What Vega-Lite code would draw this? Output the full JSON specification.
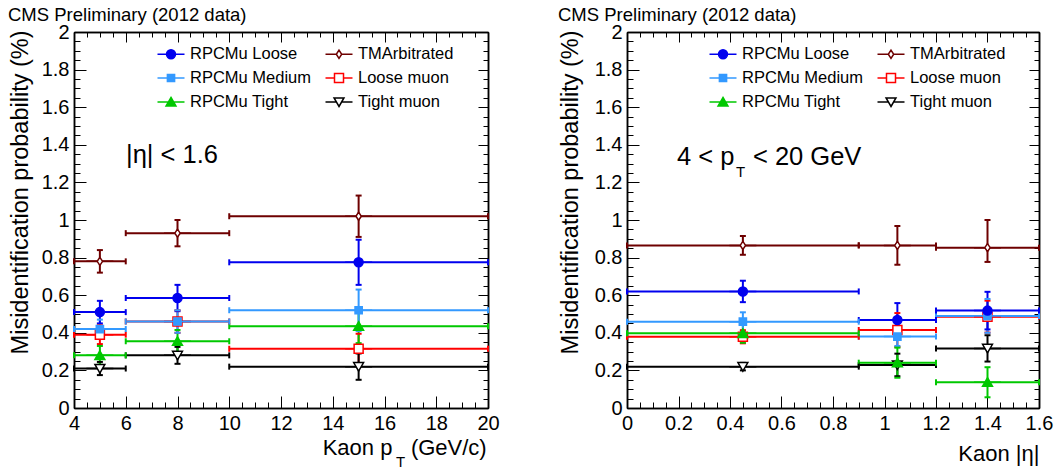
{
  "$schema": "https://vega.github.io/schema/vega-lite/v6.json",
  "padding": {"left": 8, "top": 5, "right": 5, "bottom": 0},
  "background": "white",
  "spacing": 58,
  "config": {
    "font": "Liberation Sans",
    "view": {"stroke": null},
    "axis": {
      "domainColor": "black", "domainWidth": 1.5, "tickColor": "black", "tickWidth": 1,
      "labelFont": "Liberation Sans", "labelFontSize": 20, "labelColor": "black",
      "titleFont": "Liberation Sans", "titleFontSize": 23.5, "titleColor": "black", "titleFontWeight": "normal",
      "grid": false, "labelFlush": false, "labelOverlap": false, "labelPadding": 17, "format": "~g"
    },
    "title": {"font": "Liberation Sans", "fontSize": 18.5, "fontWeight": "normal", "anchor": "start", "color": "black", "offset": -2},
    "legend": {
      "labelFont": "Liberation Sans", "labelFontSize": 16.5, "labelColor": "black",
      "symbolSize": 324, "symbolStrokeWidth": 1.5, "symbolOpacity": 1,
      "columns": 2, "rowPadding": 5, "columnPadding": 10, "labelOffset": 9, "padding": 0
    }
  },
  "datasets": {
    "pt": [
      {"s": "TMArbitrated", "x": 5, "x1": 4, "x2": 6, "y": 0.78, "ylo": 0.72, "yhi": 0.84},
      {"s": "TMArbitrated", "x": 8, "x1": 6, "x2": 10, "y": 0.93, "ylo": 0.86, "yhi": 1.0},
      {"s": "TMArbitrated", "x": 15, "x1": 10, "x2": 20, "y": 1.02, "ylo": 0.91, "yhi": 1.13},
      {"s": "Loose muon", "x": 5, "x1": 4, "x2": 6, "y": 0.39, "ylo": 0.34, "yhi": 0.44},
      {"s": "Loose muon", "x": 8, "x1": 6, "x2": 10, "y": 0.46, "ylo": 0.40, "yhi": 0.52},
      {"s": "Loose muon", "x": 15, "x1": 10, "x2": 20, "y": 0.315, "ylo": 0.235, "yhi": 0.395},
      {"s": "Tight muon", "x": 5, "x1": 4, "x2": 6, "y": 0.21, "ylo": 0.175, "yhi": 0.245},
      {"s": "Tight muon", "x": 8, "x1": 6, "x2": 10, "y": 0.28, "ylo": 0.235, "yhi": 0.325},
      {"s": "Tight muon", "x": 15, "x1": 10, "x2": 20, "y": 0.22, "ylo": 0.15, "yhi": 0.29},
      {"s": "RPCMu Tight", "x": 5, "x1": 4, "x2": 6, "y": 0.28, "ylo": 0.23, "yhi": 0.33},
      {"s": "RPCMu Tight", "x": 8, "x1": 6, "x2": 10, "y": 0.355, "ylo": 0.295, "yhi": 0.415},
      {"s": "RPCMu Tight", "x": 15, "x1": 10, "x2": 20, "y": 0.435, "ylo": 0.345, "yhi": 0.525},
      {"s": "RPCMu Medium", "x": 5, "x1": 4, "x2": 6, "y": 0.42, "ylo": 0.37, "yhi": 0.47},
      {"s": "RPCMu Medium", "x": 8, "x1": 6, "x2": 10, "y": 0.46, "ylo": 0.40, "yhi": 0.52},
      {"s": "RPCMu Medium", "x": 15, "x1": 10, "x2": 20, "y": 0.52, "ylo": 0.41, "yhi": 0.63},
      {"s": "RPCMu Loose", "x": 5, "x1": 4, "x2": 6, "y": 0.51, "ylo": 0.45, "yhi": 0.57},
      {"s": "RPCMu Loose", "x": 8, "x1": 6, "x2": 10, "y": 0.585, "ylo": 0.515, "yhi": 0.655},
      {"s": "RPCMu Loose", "x": 15, "x1": 10, "x2": 20, "y": 0.775, "ylo": 0.655, "yhi": 0.895}
    ],
    "eta": [
      {"s": "TMArbitrated", "x": 0.45, "x1": 0, "x2": 0.9, "y": 0.865, "ylo": 0.815, "yhi": 0.915},
      {"s": "TMArbitrated", "x": 1.05, "x1": 0.9, "x2": 1.2, "y": 0.865, "ylo": 0.762, "yhi": 0.968},
      {"s": "TMArbitrated", "x": 1.4, "x1": 1.2, "x2": 1.6, "y": 0.853, "ylo": 0.777, "yhi": 1.0},
      {"s": "Loose muon", "x": 0.45, "x1": 0, "x2": 0.9, "y": 0.379, "ylo": 0.344, "yhi": 0.414},
      {"s": "Loose muon", "x": 1.05, "x1": 0.9, "x2": 1.2, "y": 0.415, "ylo": 0.325, "yhi": 0.505},
      {"s": "Loose muon", "x": 1.4, "x1": 1.2, "x2": 1.6, "y": 0.486, "ylo": 0.401, "yhi": 0.571},
      {"s": "Tight muon", "x": 0.45, "x1": 0, "x2": 0.9, "y": 0.22, "ylo": 0.2, "yhi": 0.24},
      {"s": "Tight muon", "x": 1.05, "x1": 0.9, "x2": 1.2, "y": 0.229, "ylo": 0.169, "yhi": 0.289},
      {"s": "Tight muon", "x": 1.4, "x1": 1.2, "x2": 1.6, "y": 0.317, "ylo": 0.247, "yhi": 0.387},
      {"s": "RPCMu Tight", "x": 0.45, "x1": 0, "x2": 0.9, "y": 0.397, "ylo": 0.347, "yhi": 0.447},
      {"s": "RPCMu Tight", "x": 1.05, "x1": 0.9, "x2": 1.2, "y": 0.241, "ylo": 0.161, "yhi": 0.321},
      {"s": "RPCMu Tight", "x": 1.4, "x1": 1.2, "x2": 1.6, "y": 0.137, "ylo": 0.057, "yhi": 0.217},
      {"s": "RPCMu Medium", "x": 0.45, "x1": 0, "x2": 0.9, "y": 0.459, "ylo": 0.409, "yhi": 0.509},
      {"s": "RPCMu Medium", "x": 1.05, "x1": 0.9, "x2": 1.2, "y": 0.38, "ylo": 0.33, "yhi": 0.43},
      {"s": "RPCMu Medium", "x": 1.4, "x1": 1.2, "x2": 1.6, "y": 0.49, "ylo": 0.4, "yhi": 0.58},
      {"s": "RPCMu Loose", "x": 0.45, "x1": 0, "x2": 0.9, "y": 0.62, "ylo": 0.563, "yhi": 0.677},
      {"s": "RPCMu Loose", "x": 1.05, "x1": 0.9, "x2": 1.2, "y": 0.468, "ylo": 0.378, "yhi": 0.558},
      {"s": "RPCMu Loose", "x": 1.4, "x1": 1.2, "x2": 1.6, "y": 0.518, "ylo": 0.418, "yhi": 0.618}
    ]
  },
  "resolve": {
    "scale": {"color": "independent", "fill": "independent", "stroke": "independent", "shape": "independent"},
    "legend": {"fill": "independent", "stroke": "independent", "shape": "independent"}
  },
  "hconcat": [
    {
      "width": 414, "height": 376,
      "title": {"text": "CMS Preliminary (2012 data)"},
      "data": {"name": "pt"},
      "resolve": {"axis": {"x": "independent", "y": "independent"}},
      "layer": [
        {
          "mark": {"type": "rule", "strokeWidth": 2},
          "encoding": {
            "x": {"field": "x1", "type": "quantitative", "scale": {"domain": [4, 20], "nice": false, "zero": false},
                  "axis": {"orient": "bottom", "values": [4, 6, 8, 10, 12, 14, 16, 18, 20], "tickSize": -12, "title": null}},
            "x2": {"field": "x2"},
            "y": {"field": "y", "type": "quantitative", "scale": {"domain": [0, 2], "nice": false, "zero": false},
                  "axis": {"orient": "left", "values": [0, 0.2, 0.4, 0.6, 0.8, 1, 1.2, 1.4, 1.6, 1.8, 2], "tickSize": -12,
                           "title": "Misidentification probability (%)", "titleX": -54, "titleY": -2, "titleAlign": "right", "titleBaseline": "middle", "titleAngle": 270}},
            "color": {"field": "s", "type": "nominal", "legend": null,
                      "scale": {"domain": ["Tight muon", "Loose muon", "RPCMu Tight", "RPCMu Medium", "TMArbitrated", "RPCMu Loose"],
                                "range": ["#000000", "#ff0000", "#00c800", "#3399ff", "#6e0000", "#0000ee"]}}
          }
        },
        {
          "mark": {"type": "tick", "orient": "vertical", "size": 6, "thickness": 2, "opacity": 1},
          "encoding": {
            "x": {"field": "x1", "type": "quantitative",
                  "axis": {"orient": "bottom", "labels": false, "title": null, "tickSize": -6,
                           "values": [4, 4.5, 5, 5.5, 6, 6.5, 7, 7.5, 8, 8.5, 9, 9.5, 10, 10.5, 11, 11.5, 12, 12.5, 13, 13.5, 14, 14.5, 15, 15.5, 16, 16.5, 17, 17.5, 18, 18.5, 19, 19.5, 20]}},
            "y": {"field": "y", "type": "quantitative",
                  "axis": {"orient": "left", "labels": false, "title": null, "tickSize": -6,
                           "values": [0, 0.05, 0.1, 0.15, 0.2, 0.25, 0.3, 0.35, 0.4, 0.45, 0.5, 0.55, 0.6, 0.65, 0.7, 0.75, 0.8, 0.85, 0.9, 0.95, 1, 1.05, 1.1, 1.15, 1.2, 1.25, 1.3, 1.35, 1.4, 1.45, 1.5, 1.55, 1.6, 1.65, 1.7, 1.75, 1.8, 1.85, 1.9, 1.95, 2]}},
            "color": {"field": "s", "type": "nominal", "legend": null}
          }
        },
        {
          "mark": {"type": "tick", "orient": "vertical", "size": 6, "thickness": 2, "opacity": 1},
          "encoding": {
            "x": {"field": "x2", "type": "quantitative",
                  "axis": {"orient": "top", "labels": false, "title": null, "tickSize": -10, "values": [4, 6, 8, 10, 12, 14, 16, 18, 20]}},
            "y": {"field": "y", "type": "quantitative",
                  "axis": {"orient": "right", "labels": false, "title": null, "tickSize": -10, "values": [0, 0.2, 0.4, 0.6, 0.8, 1, 1.2, 1.4, 1.6, 1.8, 2]}},
            "color": {"field": "s", "type": "nominal", "legend": null}
          }
        },
        {
          "mark": {"type": "rule", "strokeWidth": 2},
          "encoding": {
            "x": {"field": "x", "type": "quantitative",
                  "axis": {"orient": "top", "labels": false, "title": null, "tickSize": -5,
                           "values": [4, 4.5, 5, 5.5, 6, 6.5, 7, 7.5, 8, 8.5, 9, 9.5, 10, 10.5, 11, 11.5, 12, 12.5, 13, 13.5, 14, 14.5, 15, 15.5, 16, 16.5, 17, 17.5, 18, 18.5, 19, 19.5, 20]}},
            "y": {"field": "ylo", "type": "quantitative",
                  "axis": {"orient": "right", "labels": false, "title": null, "tickSize": -5,
                           "values": [0, 0.05, 0.1, 0.15, 0.2, 0.25, 0.3, 0.35, 0.4, 0.45, 0.5, 0.55, 0.6, 0.65, 0.7, 0.75, 0.8, 0.85, 0.9, 0.95, 1, 1.05, 1.1, 1.15, 1.2, 1.25, 1.3, 1.35, 1.4, 1.45, 1.5, 1.55, 1.6, 1.65, 1.7, 1.75, 1.8, 1.85, 1.9, 1.95, 2]}},
            "y2": {"field": "yhi"},
            "color": {"field": "s", "type": "nominal", "legend": null}
          }
        },
        {
          "mark": {"type": "tick", "orient": "horizontal", "size": 6, "thickness": 2, "opacity": 1},
          "encoding": {
            "x": {"field": "x", "type": "quantitative", "axis": null},
            "y": {"field": "ylo", "type": "quantitative", "axis": null},
            "color": {"field": "s", "type": "nominal", "legend": null}
          }
        },
        {
          "mark": {"type": "tick", "orient": "horizontal", "size": 6, "thickness": 2, "opacity": 1},
          "encoding": {
            "x": {"field": "x", "type": "quantitative", "axis": null},
            "y": {"field": "yhi", "type": "quantitative", "axis": null},
            "color": {"field": "s", "type": "nominal", "legend": null}
          }
        },
        {
          "mark": {"type": "point", "filled": true, "opacity": 1, "size": 324, "strokeWidth": 1.5},
          "encoding": {
            "x": {"field": "x", "type": "quantitative", "axis": null},
            "y": {"field": "y", "type": "quantitative", "axis": null},
            "fill": {"field": "s", "type": "nominal",
                     "scale": {"domain": ["RPCMu Loose", "RPCMu Medium", "RPCMu Tight", "TMArbitrated", "Loose muon", "Tight muon"],
                               "range": ["#0000ee", "#3399ff", "#00c800", "#ffffff", "#ffffff", "#ffffff"]},
                     "legend": {"orient": "none", "legendX": 87, "legendY": 12, "title": null}},
            "stroke": {"field": "s", "type": "nominal",
                       "scale": {"domain": ["RPCMu Loose", "RPCMu Medium", "RPCMu Tight", "TMArbitrated", "Loose muon", "Tight muon"],
                                 "range": ["#0000ee", "#3399ff", "#00c800", "#6e0000", "#ff0000", "#000000"]},
                       "legend": {"orient": "none", "legendX": 87, "legendY": 12, "title": null}},
            "shape": {"field": "s", "type": "nominal",
                      "scale": {"domain": ["RPCMu Loose", "RPCMu Medium", "RPCMu Tight", "TMArbitrated", "Loose muon", "Tight muon"],
                                "range": ["M-1.5,0H-0.5M0.5,0H1.5M-0.5,0A0.5,0.5,0,1,1,0.5,0A0.5,0.5,0,1,1,-0.5,0Z",
                                          "M-1.5,0H-0.4M0.4,0H1.5M-0.4,-0.4H0.4V0.4H-0.4Z",
                                          "M-1.5,0H-0.29M0.29,0H1.5M0,-0.5L0.55,0.45L-0.55,0.45Z",
                                          "M-1.5,0H-0.3M0.3,0H1.5M0,-0.45L0.3,0L0,0.45L-0.3,0Z",
                                          "M-1.5,0H-0.5M0.5,0H1.5M-0.5,-0.5H0.5V0.5H-0.5Z",
                                          "M-1.5,0H-0.29M0.29,0H1.5M0,0.5L0.55,-0.45L-0.55,-0.45Z"]},
                      "legend": {"orient": "none", "legendX": 87, "legendY": 12, "title": null}}
          }
        },
        {
          "data": {"values": [{}]},
          "mark": {"type": "text", "text": "|η| < 1.6", "fontSize": 25.5, "align": "left", "baseline": "alphabetic", "color": "black"},
          "encoding": {
            "x": {"datum": 6.01, "type": "quantitative", "axis": null},
            "y": {"datum": 1.303, "type": "quantitative", "axis": null}
          }
        },
        {
          "data": {"values": [{}]},
          "mark": {"type": "text", "text": "Kaon p", "fontSize": 22, "align": "left", "baseline": "alphabetic", "color": "black"},
          "encoding": {
            "x": {"datum": 13.61, "type": "quantitative", "axis": null},
            "y": {"datum": -0.25, "type": "quantitative", "axis": null}
          }
        },
        {
          "data": {"values": [{}]},
          "mark": {"type": "text", "text": "T", "fontSize": 15, "align": "left", "baseline": "alphabetic", "color": "black"},
          "encoding": {
            "x": {"datum": 16.44, "type": "quantitative", "axis": null},
            "y": {"datum": -0.314, "type": "quantitative", "axis": null}
          }
        },
        {
          "data": {"values": [{}]},
          "mark": {"type": "text", "text": "(GeV/c)", "fontSize": 22, "align": "left", "baseline": "alphabetic", "color": "black"},
          "encoding": {
            "x": {"datum": 17.02, "type": "quantitative", "axis": null},
            "y": {"datum": -0.25, "type": "quantitative", "axis": null}
          }
        }
      ]
    },
    {
      "width": 412, "height": 376,
      "title": {"text": "CMS Preliminary (2012 data)"},
      "data": {"name": "eta"},
      "resolve": {"axis": {"x": "independent", "y": "independent"}},
      "layer": [
        {
          "mark": {"type": "rule", "strokeWidth": 2},
          "encoding": {
            "x": {"field": "x1", "type": "quantitative", "scale": {"domain": [0, 1.6], "nice": false, "zero": false},
                  "axis": {"orient": "bottom", "values": [0, 0.2, 0.4, 0.6, 0.8, 1, 1.2, 1.4, 1.6], "tickSize": -12,
                           "title": "Kaon |η|", "titleFontSize": 22, "titleX": 412, "titleY": 52, "titleAlign": "right", "titleBaseline": "alphabetic"}},
            "x2": {"field": "x2"},
            "y": {"field": "y", "type": "quantitative", "scale": {"domain": [0, 2], "nice": false, "zero": false},
                  "axis": {"orient": "left", "values": [0, 0.2, 0.4, 0.6, 0.8, 1, 1.2, 1.4, 1.6, 1.8, 2], "tickSize": -12,
                           "title": "Misidentification probability (%)", "titleX": -57, "titleY": -2, "titleAlign": "right", "titleBaseline": "middle", "titleAngle": 270}},
            "color": {"field": "s", "type": "nominal", "legend": null,
                      "scale": {"domain": ["Tight muon", "Loose muon", "RPCMu Tight", "RPCMu Medium", "TMArbitrated", "RPCMu Loose"],
                                "range": ["#000000", "#ff0000", "#00c800", "#3399ff", "#6e0000", "#0000ee"]}}
          }
        },
        {
          "mark": {"type": "tick", "orient": "vertical", "size": 6, "thickness": 2, "opacity": 1},
          "encoding": {
            "x": {"field": "x1", "type": "quantitative",
                  "axis": {"orient": "bottom", "labels": false, "title": null, "tickSize": -6,
                           "values": [0, 0.05, 0.1, 0.15, 0.2, 0.25, 0.3, 0.35, 0.4, 0.45, 0.5, 0.55, 0.6, 0.65, 0.7, 0.75, 0.8, 0.85, 0.9, 0.95, 1, 1.05, 1.1, 1.15, 1.2, 1.25, 1.3, 1.35, 1.4, 1.45, 1.5, 1.55, 1.6]}},
            "y": {"field": "y", "type": "quantitative",
                  "axis": {"orient": "left", "labels": false, "title": null, "tickSize": -6,
                           "values": [0, 0.05, 0.1, 0.15, 0.2, 0.25, 0.3, 0.35, 0.4, 0.45, 0.5, 0.55, 0.6, 0.65, 0.7, 0.75, 0.8, 0.85, 0.9, 0.95, 1, 1.05, 1.1, 1.15, 1.2, 1.25, 1.3, 1.35, 1.4, 1.45, 1.5, 1.55, 1.6, 1.65, 1.7, 1.75, 1.8, 1.85, 1.9, 1.95, 2]}},
            "color": {"field": "s", "type": "nominal", "legend": null}
          }
        },
        {
          "mark": {"type": "tick", "orient": "vertical", "size": 6, "thickness": 2, "opacity": 1},
          "encoding": {
            "x": {"field": "x2", "type": "quantitative",
                  "axis": {"orient": "top", "labels": false, "title": null, "tickSize": -10, "values": [0, 0.2, 0.4, 0.6, 0.8, 1, 1.2, 1.4, 1.6]}},
            "y": {"field": "y", "type": "quantitative",
                  "axis": {"orient": "right", "labels": false, "title": null, "tickSize": -10, "values": [0, 0.2, 0.4, 0.6, 0.8, 1, 1.2, 1.4, 1.6, 1.8, 2]}},
            "color": {"field": "s", "type": "nominal", "legend": null}
          }
        },
        {
          "mark": {"type": "rule", "strokeWidth": 2},
          "encoding": {
            "x": {"field": "x", "type": "quantitative",
                  "axis": {"orient": "top", "labels": false, "title": null, "tickSize": -5,
                           "values": [0, 0.05, 0.1, 0.15, 0.2, 0.25, 0.3, 0.35, 0.4, 0.45, 0.5, 0.55, 0.6, 0.65, 0.7, 0.75, 0.8, 0.85, 0.9, 0.95, 1, 1.05, 1.1, 1.15, 1.2, 1.25, 1.3, 1.35, 1.4, 1.45, 1.5, 1.55, 1.6]}},
            "y": {"field": "ylo", "type": "quantitative",
                  "axis": {"orient": "right", "labels": false, "title": null, "tickSize": -5,
                           "values": [0, 0.05, 0.1, 0.15, 0.2, 0.25, 0.3, 0.35, 0.4, 0.45, 0.5, 0.55, 0.6, 0.65, 0.7, 0.75, 0.8, 0.85, 0.9, 0.95, 1, 1.05, 1.1, 1.15, 1.2, 1.25, 1.3, 1.35, 1.4, 1.45, 1.5, 1.55, 1.6, 1.65, 1.7, 1.75, 1.8, 1.85, 1.9, 1.95, 2]}},
            "y2": {"field": "yhi"},
            "color": {"field": "s", "type": "nominal", "legend": null}
          }
        },
        {
          "mark": {"type": "tick", "orient": "horizontal", "size": 6, "thickness": 2, "opacity": 1},
          "encoding": {
            "x": {"field": "x", "type": "quantitative", "axis": null},
            "y": {"field": "ylo", "type": "quantitative", "axis": null},
            "color": {"field": "s", "type": "nominal", "legend": null}
          }
        },
        {
          "mark": {"type": "tick", "orient": "horizontal", "size": 6, "thickness": 2, "opacity": 1},
          "encoding": {
            "x": {"field": "x", "type": "quantitative", "axis": null},
            "y": {"field": "yhi", "type": "quantitative", "axis": null},
            "color": {"field": "s", "type": "nominal", "legend": null}
          }
        },
        {
          "mark": {"type": "point", "filled": true, "opacity": 1, "size": 324, "strokeWidth": 1.5},
          "encoding": {
            "x": {"field": "x", "type": "quantitative", "axis": null},
            "y": {"field": "y", "type": "quantitative", "axis": null},
            "fill": {"field": "s", "type": "nominal",
                     "scale": {"domain": ["RPCMu Loose", "RPCMu Medium", "RPCMu Tight", "TMArbitrated", "Loose muon", "Tight muon"],
                               "range": ["#0000ee", "#3399ff", "#00c800", "#ffffff", "#ffffff", "#ffffff"]},
                     "legend": {"orient": "none", "legendX": 86, "legendY": 12, "title": null}},
            "stroke": {"field": "s", "type": "nominal",
                       "scale": {"domain": ["RPCMu Loose", "RPCMu Medium", "RPCMu Tight", "TMArbitrated", "Loose muon", "Tight muon"],
                                 "range": ["#0000ee", "#3399ff", "#00c800", "#6e0000", "#ff0000", "#000000"]},
                       "legend": {"orient": "none", "legendX": 86, "legendY": 12, "title": null}},
            "shape": {"field": "s", "type": "nominal",
                      "scale": {"domain": ["RPCMu Loose", "RPCMu Medium", "RPCMu Tight", "TMArbitrated", "Loose muon", "Tight muon"],
                                "range": ["M-1.5,0H-0.5M0.5,0H1.5M-0.5,0A0.5,0.5,0,1,1,0.5,0A0.5,0.5,0,1,1,-0.5,0Z",
                                          "M-1.5,0H-0.4M0.4,0H1.5M-0.4,-0.4H0.4V0.4H-0.4Z",
                                          "M-1.5,0H-0.29M0.29,0H1.5M0,-0.5L0.55,0.45L-0.55,0.45Z",
                                          "M-1.5,0H-0.3M0.3,0H1.5M0,-0.45L0.3,0L0,0.45L-0.3,0Z",
                                          "M-1.5,0H-0.5M0.5,0H1.5M-0.5,-0.5H0.5V0.5H-0.5Z",
                                          "M-1.5,0H-0.29M0.29,0H1.5M0,0.5L0.55,-0.45L-0.55,-0.45Z"]},
                      "legend": {"orient": "none", "legendX": 86, "legendY": 12, "title": null}}
          }
        },
        {
          "data": {"values": [{}]},
          "mark": {"type": "text", "text": "4 < p", "fontSize": 25.5, "align": "left", "baseline": "alphabetic", "color": "black"},
          "encoding": {
            "x": {"datum": 0.194, "type": "quantitative", "axis": null},
            "y": {"datum": 1.293, "type": "quantitative", "axis": null}
          }
        },
        {
          "data": {"values": [{}]},
          "mark": {"type": "text", "text": "T", "fontSize": 15, "align": "left", "baseline": "alphabetic", "color": "black"},
          "encoding": {
            "x": {"datum": 0.423, "type": "quantitative", "axis": null},
            "y": {"datum": 1.229, "type": "quantitative", "axis": null}
          }
        },
        {
          "data": {"values": [{}]},
          "mark": {"type": "text", "text": "< 20 GeV", "fontSize": 25.5, "align": "left", "baseline": "alphabetic", "color": "black"},
          "encoding": {
            "x": {"datum": 0.489, "type": "quantitative", "axis": null},
            "y": {"datum": 1.293, "type": "quantitative", "axis": null}
          }
        }
      ]
    }
  ]
}
